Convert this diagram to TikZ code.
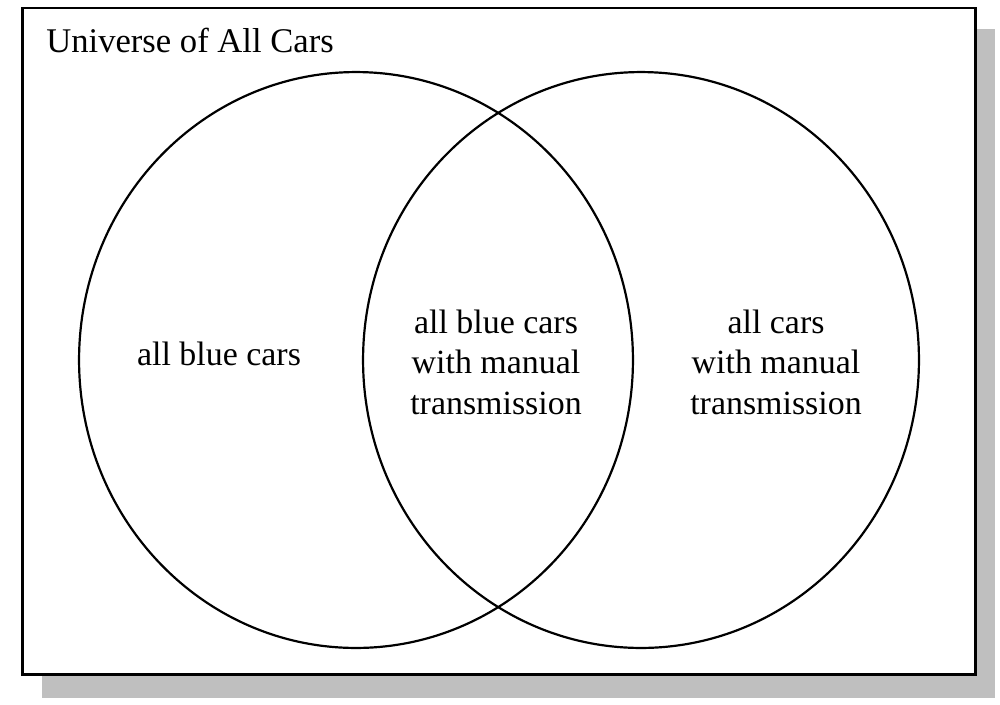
\documentclass[tikz,border=0pt]{standalone}
\usepackage{fontspec}
\setmainfont{Liberation Serif}
\usetikzlibrary{backgrounds}

\begin{document}
\begin{tikzpicture}[x=0.02cm, y=-0.02cm]
\tikzstyle{frame}=[draw=black, line width=1.7pt]
\tikzstyle{shadow}=[fill=black!25]
\tikzstyle{set}=[draw=black, line width=1.25pt]
\tikzstyle{label}=[font=\fontsize{19.3}{23}\selectfont, align=center, inner sep=0pt]

\useasboundingbox (0,0) rectangle (1000,704);

% Shadow and frame
\fill [shadow] (42,29) rectangle (995,698);
\filldraw [frame, fill=white] (22.5,8) rectangle (975,674);

% Sets
\draw [set] (356,360) ellipse [x radius=5.54cm, y radius=5.76cm];
\draw [set] (641,360) ellipse [x radius=5.56cm, y radius=5.76cm];

% Text
\node at (46,52) [label, anchor=base west, font=\fontsize{19.7}{23}\selectfont] (universe) {Universe of All Cars};
\node at (219,365) [label, anchor=base] (blue) {all blue cars};
\node at (496,362) [label] (both) {all blue cars\\with manual\\transmission};
\node at (776,362) [label] (manual) {all cars\\with manual\\transmission};
\end{tikzpicture}
\end{document}
